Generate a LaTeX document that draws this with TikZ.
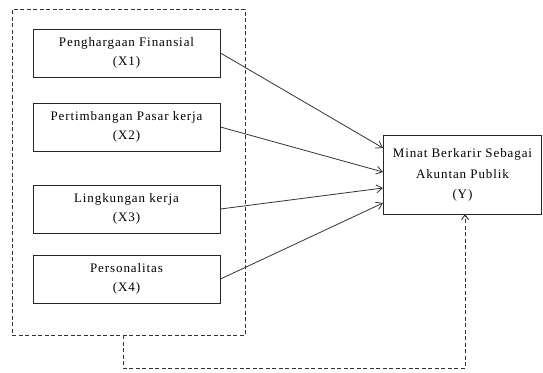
\documentclass[tikz,border=0pt]{standalone}
\usepackage{fontspec}
\setmainfont{Liberation Serif}[LetterSpace=7]
\usetikzlibrary{arrows.meta}
\begin{document}
\begin{tikzpicture}[x=1pt,y=-1pt,
  varbox/.style={draw=black!85,line width=0.9pt,rectangle,inner sep=0pt,align=center,font=\fontsize{13}{19}\selectfont},
  arr/.style={draw=black!80,line width=0.8pt,-{Straight Barb[length=6pt,width=8pt]}},
  dashbox/.style={draw=black!80,line width=0.9pt,dash pattern=on 4pt off 2.5pt}]
\useasboundingbox (0,0) rectangle (543,372);
\node[dashbox,rectangle,minimum width=233pt,minimum height=326pt,anchor=north west] (grp) at (12,9) {};
\node[varbox,minimum width=187pt,minimum height=48pt] (x1) at (126.5,53) {Penghargaan Finansial\\(X1)};
\node[varbox,minimum width=187pt,minimum height=48pt] (x2) at (126.5,127) {Pertimbangan Pasar kerja\\(X2)};
\node[varbox,minimum width=187pt,minimum height=48pt] (x3) at (126.5,209) {Lingkungan kerja\\(X3)};
\node[varbox,minimum width=187pt,minimum height=48pt] (x4) at (126.5,279) {Personalitas\\(X4)};
\node[varbox,font=\fontsize{13}{20.5}\selectfont,minimum width=158pt,minimum height=79pt,anchor=north west] (y) at (383,135) {Minat Berkarir Sebagai\\Akuntan Publik\\(Y)};
\coordinate (t1) at (383,148);
\coordinate (t2) at (383,172);
\coordinate (t3) at (383,188);
\coordinate (t4) at (383,203);
\draw[arr] (x1.east) -- (t1);
\draw[arr] (x2.east) -- (t2);
\draw[arr] (x3.east) -- (t3);
\draw[arr] (x4.east) -- (t4);
\coordinate (fs) at (123,335);
\coordinate (fe) at (465,214);
\draw[dashbox,-{Straight Barb[length=5pt,width=7pt]}] (fs) -- (123,368) -- (465,368) -- (fe);
\end{tikzpicture}
\end{document}
